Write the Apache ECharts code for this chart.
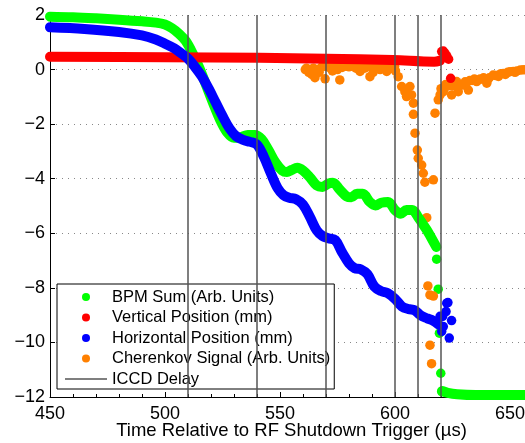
<!DOCTYPE html>
<html><head><meta charset="utf-8">
<script src="https://cdn.jsdelivr.net/npm/echarts@6/dist/echarts.min.js"></script>
<style>html,body{margin:0;padding:0;background:#fff}#c{width:525px;height:443px}</style>
</head><body><div id="c"></div>
<script>
// ---- data (time in µs, values in chart units) ----
const bpmSumTrace = [[450,1.94],[460,1.92],[470,1.88],[480,1.83],[490,1.77],[496,1.72],[500,1.65],[503,1.52],[506,1.32],[509,1.05],[512,0.6],[515,0.05],[518,-0.6],[521,-1.25],[524,-1.85],[527,-2.3],[530,-2.5],[533,-2.48],[536,-2.4],[539,-2.4],[542,-2.55],[545,-2.95],[548,-3.4],[551,-3.7],[553,-3.75],[555,-3.68],[557.5,-3.6],[560,-3.7],[563,-3.95],[566,-4.25],[568.5,-4.3],[571,-4.18],[573,-4.15],[576,-4.4],[579,-4.65],[581,-4.68],[583.5,-4.55],[586,-4.55],[589,-4.85],[591.5,-4.98],[594,-4.88],[597,-4.85],[600,-5.15],[602.5,-5.28],[605,-5.15],[607.5,-5.15],[610,-5.4],[612,-5.65],[614,-5.9],[616,-6.2],[618,-6.5]];
const bpmSumPoints = [[618.1,-6.95],[618.8,-8.05],[619.3,-9.66],[619.9,-11.13],[620.3,-11.8]];
const bpmSumTail = [[620.5,-11.78],[623,-11.85],[627,-11.9],[635,-11.93],[660,-11.93]];

const verticalTrace = [[450,0.47],[500,0.45],[541,0.43],[570,0.4],[599,0.35],[617,0.29],[619.6,0.33]];
const verticalPoints = [[620.3,0.66],[621,0.68],[621.7,0.6],[622.5,0.5],[623.3,0.38],[624.2,-0.32]];

const horizontalTrace = [[450,1.55],[465,1.49],[480,1.38],[490,1.25],[496,1.1],[500,0.95],[504,0.78],[507,0.6],[510,0.4],[513,0.1],[516,-0.25],[519,-0.7],[522,-1.2],[525,-1.7],[528,-2.15],[531,-2.45],[534,-2.58],[537,-2.65],[540,-2.75],[543,-3.2],[546,-3.8],[549,-4.35],[551.5,-4.6],[554,-4.7],[557,-4.75],[560,-4.95],[563,-5.4],[566,-5.9],[568.5,-6.1],[571,-6.18],[574,-6.25],[577,-6.7],[580,-7.1],[582.5,-7.28],[585,-7.32],[588,-7.5],[591,-7.95],[594,-8.12],[597,-8.2],[600,-8.4],[603,-8.68],[606,-8.78],[608.5,-8.82],[611,-9.0],[614,-9.12],[616.5,-9.2],[619,-9.35]];
const horizontalPoints = [[619.6,-9.04],[620.3,-9.6],[620.7,-9.05],[621,-9.42],[622.2,-8.87],[622.5,-8.56],[623,-8.54],[623.6,-9.84],[624.6,-9.2]];

const cherenkovPoints = [[561,0.0],[561.5,0.05],[562.5,-0.1],[563.8,-0.18],[564.5,0.05],[565.2,-0.3],[566.5,0.0],[567,-0.1],[568,0.08],[568.8,0.15],[569.6,-0.34],[570.3,0.11],[571,0.12],[572,0.05],[572.8,-0.05],[573.5,0.15],[574,0.1],[575,0.0],[576,-0.38],[576.5,0.17],[577,0.08],[578,0.12],[579,0.15],[580,0.1],[580.8,0.18],[581.9,0.23],[582.5,0.12],[583,0.05],[584.8,-0.07],[585.5,0.1],[586,0.15],[586.8,0.05],[587.5,0.1],[588.3,0.12],[589.1,-0.26],[590,0.08],[590.5,-0.1],[591,0.12],[592,0.11],[592.8,0.08],[593.5,0.0],[594.2,0.06],[595,0.12],[596,0.1],[596.4,-0.07],[597.5,0.1],[598.3,0.05],[599.3,0.11],[599.8,0.12],[600.2,-0.05],
  [601.4,-0.26],[602.9,-0.62],[604.3,-0.81],[605,-0.99],[606.5,-0.62],[607.2,-0.93],[608,-1.23],[608,-1.64],[608.7,-2.33],[609.7,-2.95],[610.1,-3.25],[611.6,-3.5],[612.3,-3.8],[613,-4.13],[616.7,-4.04],[613.8,-5.43],[614.3,-7.93],[615.2,-8.26],[616.7,-8.3],[615.2,-10.1],[615.9,-10.78],
  [617.4,-1.6],[618.8,-1.11],[619.6,-0.93],[620,-0.7],[621,-0.81],[622,-0.55],[622.5,-0.62],[623,-0.55],[624,-0.5],[624.6,-0.93],[625,-0.6],[626,-0.45],[626.8,-0.44],[627,-0.6],[627.5,-0.81],[628.5,-0.55],[629.7,-0.57],[630.5,-0.45],[631,-0.5],[631.9,-0.75],[632.5,-0.4],[633.5,-0.4],[634.5,-0.35],[635.5,-0.44],[636.3,-0.38],[637,-0.35],[638.5,-0.3],[639.9,-0.5],[640.5,-0.35],[641,-0.3],[642.7,-0.2],[643.8,-0.22],[645,-0.25],[646,-0.15],[647.1,-0.14],[648,-0.18],[649,-0.1],[650,-0.08],[651.4,-0.07],[652.2,-0.1],[653,-0.05],[654.5,-0.02],[655.8,-0.01],[657,0.0],[658,0.02],[659,0.08],[660,0.05]];

const iccdDelays = [510, 540, 570, 600, 610, 620];
const seriesNames = ['BPM Sum (Arb. Units)','Vertical Position (mm)','Horizontal Position (mm)','Cherenkov Signal (Arb. Units)','ICCD Delay'];
const xMin = 450, xMax = 660, xStep = 50;
const yMin = -12, yMax = 2, yStep = 2;

// ---- chart ----
const FONT = '"Liberation Sans", Arial, Helvetica, sans-serif';
const GREEN = '#00ff00', RED = '#ff0000', BLUE = '#0000ff', ORANGE = '#ff8000', GRAY = '#555555';
const LW = 10, SS = 9.5;

function traceSeries(name, data, color) {
  return { type:'line', name, data, color, smooth:0.35, symbol:'none', showSymbol:false,
    lineStyle:{ width:LW, color, cap:'round', join:'round' }, silent:true };
}
function pointSeries(name, data, color) {
  return { type:'scatter', name, data, color, symbol:'circle', symbolSize:SS,
    itemStyle:{ color, opacity:1 }, silent:true };
}
const iccdData = [];
iccdDelays.forEach(t => { iccdData.push([t, yMax], [t, yMin], [t, '-']); });

const chart = echarts.init(document.getElementById('c'), null, { renderer:'canvas' });
chart.setOption({
  animation:false,
  backgroundColor:'#ffffff',
  textStyle:{ fontFamily:FONT },
  grid:{ left:50, width:483, top:15, height:382, containLabel:false, outerBoundsMode:'none' },
  xAxis:{
    type:'value', min:xMin, max:xMax, interval:xStep,
    name:'Time Relative to RF Shutdown Trigger (\u00b5s)', nameLocation:'middle', nameGap:24,
    nameMoveOverlap:false,
    nameTextStyle:{ fontSize:18.5, color:'#000', fontFamily:FONT, verticalAlign:'top' },
    axisLine:{ show:true, onZero:false, lineStyle:{ color:'#000', width:1 } },
    axisTick:{ show:true, inside:true, length:5, lineStyle:{ color:'#000' } },
    minorTick:{ show:true, splitNumber:5, length:3, lineStyle:{ color:'#000' } },
    axisLabel:{ fontSize:18, color:'#000', margin:8, showMaxLabel:false, fontFamily:FONT },
    splitLine:{ show:false }
  },
  yAxis:{
    type:'value', min:yMin, max:yMax, interval:yStep,
    axisLine:{ show:true, lineStyle:{ color:'#000', width:1 } },
    axisTick:{ show:true, inside:true, length:5, lineStyle:{ color:'#000' } },
    axisLabel:{ fontSize:18, color:'#000', margin:5, fontFamily:FONT,
      formatter: v => v < 0 ? '\u2212' + (-v) : String(v) },
    splitLine:{ show:true, lineStyle:{ color:'#888', width:1, type:[1,5] } }
  },
  legend:{
    orient:'vertical', left:57, top:284,
    padding:[3,4,0,8], itemGap:0.5, itemWidth:42, itemHeight:8,
    backgroundColor:'#fff', borderColor:'#000', borderWidth:1, borderRadius:0,
    selectedMode:false, symbolKeepAspect:true,
    textStyle:{ fontSize:16.5, color:'#000', lineHeight:20, fontFamily:FONT },
    data:[
      { name:seriesNames[0], icon:'circle' },
      { name:seriesNames[1], icon:'circle' },
      { name:seriesNames[2], icon:'circle' },
      { name:seriesNames[3], icon:'circle' },
      { name:seriesNames[4], icon:'path://M0,0H420V14H0Z', itemStyle:{ color:GRAY } }
    ]
  },
  series:[
    traceSeries(seriesNames[0], bpmSumTrace, GREEN),
    pointSeries(seriesNames[0], bpmSumPoints, GREEN),
    traceSeries(seriesNames[0], bpmSumTail, GREEN),
    pointSeries(seriesNames[3], cherenkovPoints, ORANGE),
    traceSeries(seriesNames[1], verticalTrace, RED),
    pointSeries(seriesNames[1], verticalPoints, RED),
    traceSeries(seriesNames[2], horizontalTrace, BLUE),
    pointSeries(seriesNames[2], horizontalPoints, BLUE),
    { type:'line', name:seriesNames[4], data:iccdData, color:GRAY, symbol:'none', showSymbol:false,
      connectNulls:false, lineStyle:{ width:1.5, color:GRAY }, silent:true, z:5 }
  ]
});
</script>
</body></html>
